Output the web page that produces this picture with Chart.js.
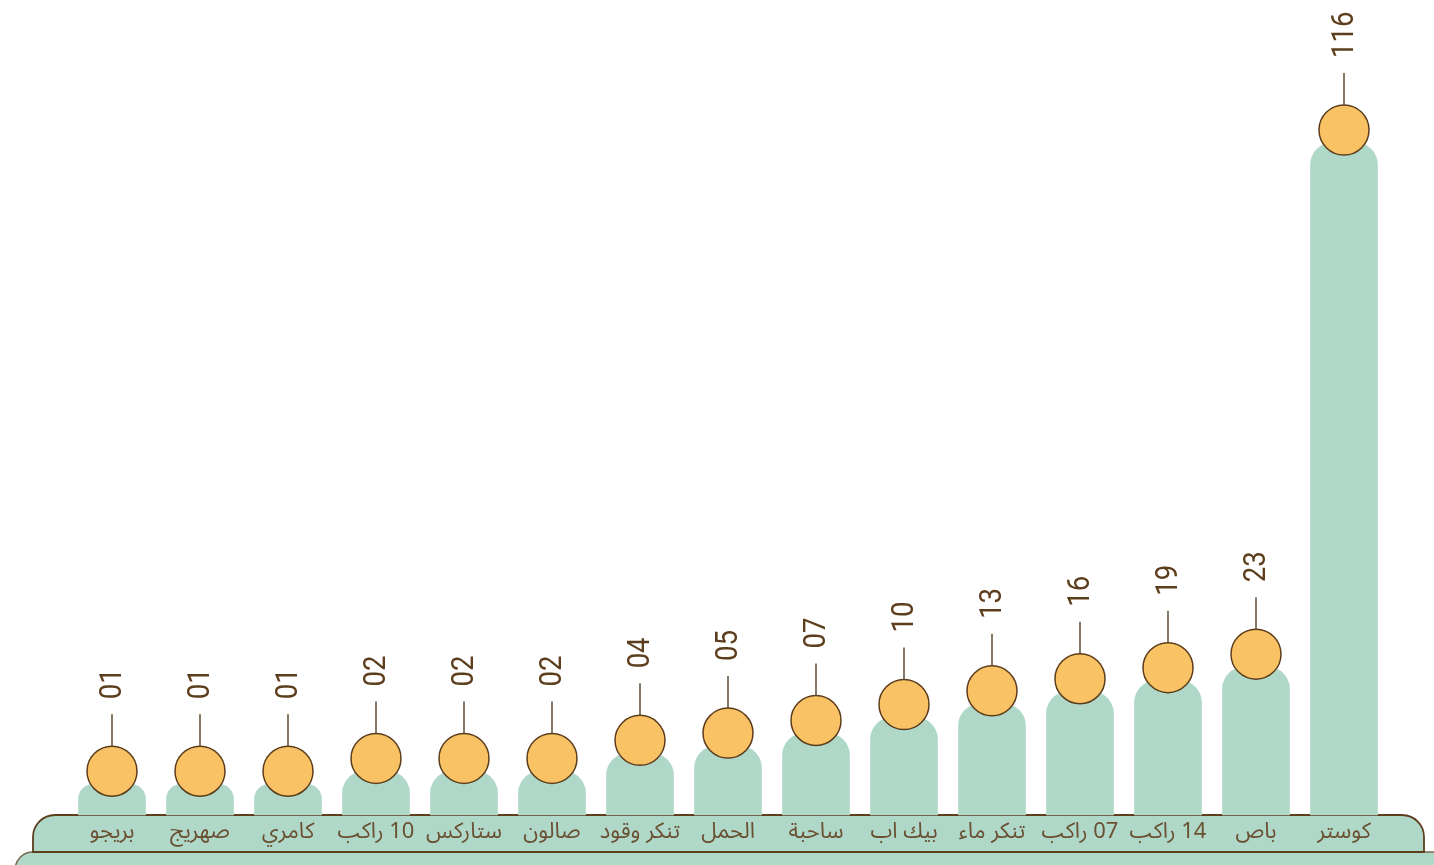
<!DOCTYPE html>
<html lang="ar">
<head>
<meta charset="utf-8">
<script src="https://cdn.jsdelivr.net/npm/chart.js@4/dist/chart.umd.min.js"></script>
<style>
  html, body { margin: 0; padding: 0; background: #ffffff; }
  #wrap { width: 1434px; height: 865px; }
</style>
</head>
<body>
<div id="wrap"><canvas id="c" width="1434" height="865"></canvas></div>
<script>
// ---- data (left to right) ----
const categories = ['بريجو', 'صهريج', 'كامري', '10 راكب', 'ستاركس', 'صالون', 'تنكر وقود', 'الحمل', 'ساحبة', 'بيك اب', 'تنكر ماء', '07 راكب', '14 راكب', 'باص', 'كوستر'];
const values = [1, 1, 1, 2, 2, 2, 4, 5, 7, 10, 13, 16, 19, 23, 116];
const valueLabels = ['01', '01', '01', '02', '02', '02', '04', '05', '07', '10', '13', '16', '19', '23', '116'];

// ---- style ----
const GREEN = '#B0D8C8';
const ORANGE = '#F9C265';
const BROWN = '#5C3D1C';
const STEM = '#6A5843';

// square-root axis with a break: values up to `at` use a sqrt mapping on the lower share,
// values above it run linearly up to the max.
class BrokenSqrtScale extends Chart.LinearScale {
  static id = 'brokenSqrt';
  static defaults = Chart.LinearScale.defaults;
  _frac(value) {
    const o = this.options.brk;
    const v = Math.max(0, value);
    if (v <= o.at) return Math.pow(v / o.at, o.exponent) * o.share;
    return o.share + (v - o.at) / (this.max - o.at) * (1 - o.share);
  }
  getPixelForValue(value) {
    return this.getPixelForDecimal(this._frac(value));
  }
  getValueForPixel(pixel) {
    const o = this.options.brk;
    const f = this.getDecimalForPixel(pixel);
    if (f <= o.share) return Math.pow(f / o.share, 1 / o.exponent) * o.at;
    return o.at + (f - o.share) / (1 - o.share) * (this.max - o.at);
  }
}
Chart.register(BrokenSqrtScale);

const decorPlugin = {
  id: 'decor',
  beforeDatasetsDraw(chart) {
    const ctx = chart.ctx;
    const a = chart.chartArea;
    const top1 = a.bottom, bot1 = a.bottom + 37;
    const l1 = a.left - 35, r1 = a.right + 36, rad1 = 22;
    ctx.save();
    // lower band
    const l2 = a.left - 53, rad2 = 18;
    ctx.beginPath();
    ctx.moveTo(l2, chart.height + 5);
    ctx.lineTo(l2, bot1 + rad2);
    ctx.arcTo(l2, bot1, l2 + rad2, bot1, rad2);
    ctx.lineTo(chart.width + 5, bot1);
    ctx.lineTo(chart.width + 5, chart.height + 5);
    ctx.closePath();
    ctx.fillStyle = GREEN;
    ctx.fill();
    ctx.beginPath();
    ctx.moveTo(l2, chart.height + 5);
    ctx.lineTo(l2, bot1 + rad2);
    ctx.arcTo(l2, bot1, l2 + rad2, bot1, rad2);
    ctx.lineTo(chart.width + 5, bot1);
    ctx.strokeStyle = '#7a6650';
    ctx.lineWidth = 1.5;
    ctx.stroke();
    // upper band
    ctx.beginPath();
    ctx.moveTo(l1, bot1);
    ctx.lineTo(l1, top1 + rad1);
    ctx.arcTo(l1, top1, l1 + rad1, top1, rad1);
    ctx.lineTo(r1 - rad1, top1);
    ctx.arcTo(r1, top1, r1, top1 + rad1, rad1);
    ctx.lineTo(r1, bot1);
    ctx.closePath();
    ctx.fillStyle = GREEN;
    ctx.fill();
    ctx.strokeStyle = BROWN;
    ctx.lineWidth = 1.8;
    ctx.stroke();
    ctx.restore();
  },
  afterDatasetsDraw(chart) {
    const ctx = chart.ctx;
    const a = chart.chartArea;
    const meta = chart.getDatasetMeta(0);
    const xScale = chart.scales.x;
    ctx.save();
    meta.data.forEach((bar, i) => {
      const x = bar.x;
      const cy = bar.y - 13;
      // stem
      ctx.beginPath();
      ctx.moveTo(x, cy - 25);
      ctx.lineTo(x, cy - 57);
      ctx.strokeStyle = STEM;
      ctx.lineWidth = 1.6;
      ctx.stroke();
      // circle
      ctx.beginPath();
      ctx.arc(x, cy, 25, 0, Math.PI * 2);
      ctx.fillStyle = ORANGE;
      ctx.fill();
      ctx.strokeStyle = BROWN;
      ctx.lineWidth = 1.5;
      ctx.stroke();
      // value label
      ctx.save();
      ctx.translate(x, cy - 72);
      ctx.rotate(-Math.PI / 2);
      ctx.scale(0.86, 1);
      ctx.fillStyle = BROWN;
      ctx.font = '400 32px Roboto, "DejaVu Sans", sans-serif';
      ctx.textAlign = 'left';
      ctx.textBaseline = 'middle';
      ctx.fillText(valueLabels[i], 0, 1);
      ctx.restore();
    });
    // category labels
    ctx.direction = 'rtl';
    ctx.font = '22px "Noto Sans Arabic", "DejaVu Sans", sans-serif';
    ctx.fillStyle = '#6A5032';
    ctx.textAlign = 'center';
    ctx.textBaseline = 'middle';
    categories.forEach((c, i) => {
      ctx.fillText(c, xScale.getPixelForValue(i), a.bottom + 20);
    });
    ctx.restore();
  }
};

new Chart(document.getElementById('c'), {
  type: 'bar',
  data: {
    labels: categories,
    datasets: [{
      data: values,
      backgroundColor: GREEN,
      borderWidth: 0,
      borderSkipped: 'start',
      borderRadius: { topLeft: 22, topRight: 22, bottomLeft: 0, bottomRight: 0 },
      barThickness: 67,
      clip: false
    }]
  },
  options: {
    responsive: false,
    animation: false,
    events: [],
    layout: { padding: { left: 68, right: 46, top: 143, bottom: 50 } },
    plugins: { legend: { display: false }, tooltip: { enabled: false } },
    scales: {
      x: { display: false, grid: { display: false } },
      y: {
        type: 'brokenSqrt',
        display: false,
        min: 0,
        max: Math.max(...values),
        brk: { at: 23, exponent: 0.5, share: 0.22 }
      }
    }
  },
  plugins: [decorPlugin]
});
</script>
</body>
</html>
